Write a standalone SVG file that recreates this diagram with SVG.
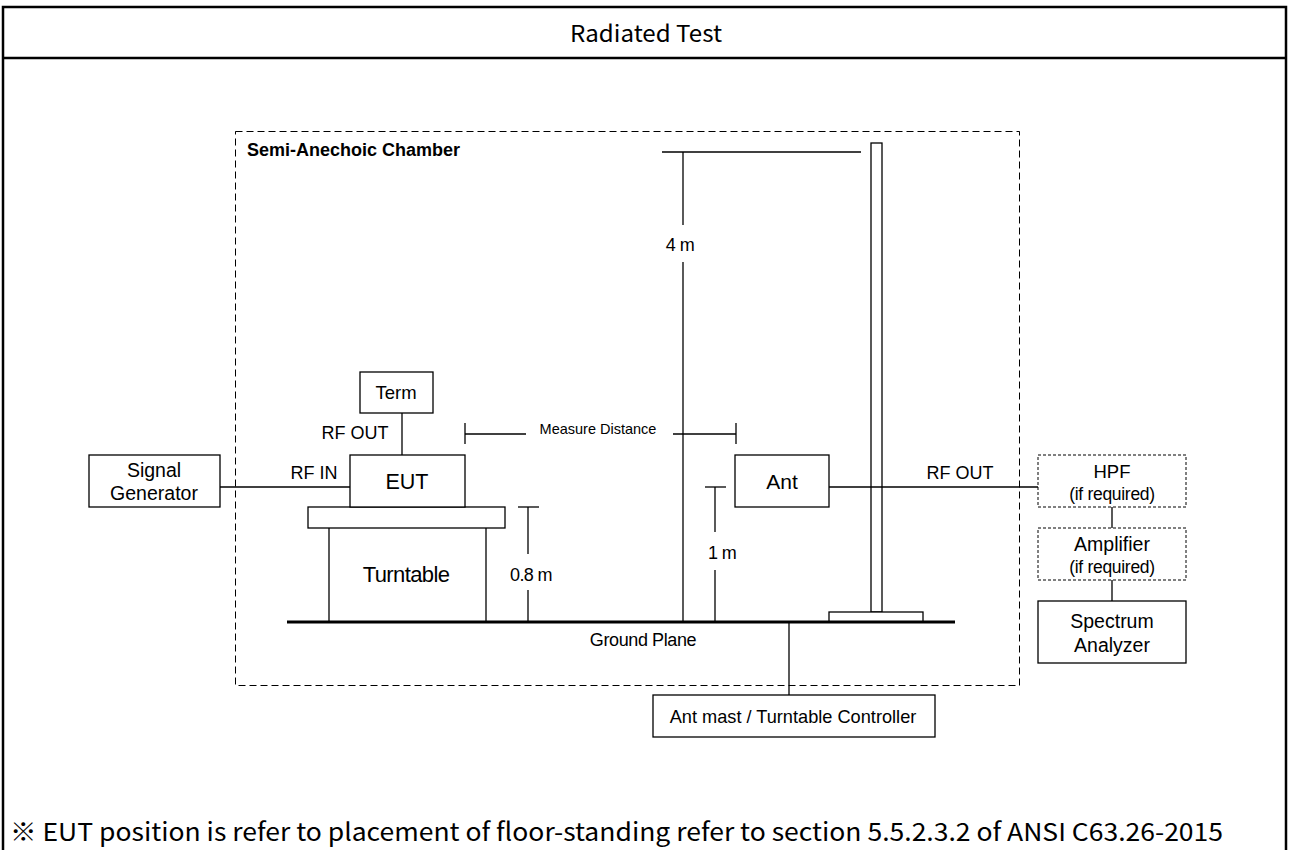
<svg xmlns="http://www.w3.org/2000/svg" width="1289" height="850" viewBox="0 0 1289 850">
<style>
.ln{stroke:#000;stroke-width:1.3;fill:none}
.bx{stroke:#000;stroke-width:1.3;fill:#fff}
.dbx{stroke:#000;stroke-width:1;stroke-dasharray:3,2;fill:#fff}
.t{font-family:"Liberation Sans",Arial,sans-serif;fill:#000;text-anchor:middle}
.cjk{font-family:"Noto Sans CJK KR","Noto Sans",sans-serif;fill:#000}
</style>
<rect x="0" y="0" width="1289" height="850" fill="#fff"/>
<g id="frame">
<path d="M3,852 V7 H1286 V852" stroke="#000" stroke-width="2.5" fill="none"/>
<line x1="3" y1="58" x2="1286" y2="58" stroke="#000" stroke-width="2.5"/>
<text class="cjk" x="570" y="42" font-size="23" textLength="152" lengthAdjust="spacingAndGlyphs">Radiated Test</text>
</g>
<g id="chamber">
<rect x="235.5" y="131.5" width="784" height="554" fill="none" stroke="#000" stroke-width="1" stroke-dasharray="7,4"/>
<text class="t" x="247" y="156" font-size="18" font-weight="bold" style="text-anchor:start">Semi-Anechoic Chamber</text>
</g>
<g id="mast">
<rect class="bx" x="871" y="143" width="11" height="469"/>
<rect class="bx" x="829" y="612" width="94" height="10"/>
</g>
<g id="connectors">
<line class="ln" x1="220" y1="487" x2="350" y2="487"/>
<line class="ln" x1="402" y1="413" x2="402" y2="455"/>
<line class="ln" x1="829" y1="487" x2="1038" y2="487"/>
<line class="ln" x1="1112" y1="507" x2="1112" y2="528"/>
<line class="ln" x1="1112" y1="580" x2="1112" y2="601"/>
<line class="ln" x1="789" y1="622" x2="789" y2="695"/>
<!-- 4m dimension -->
<line class="ln" x1="662" y1="152" x2="861" y2="152"/>
<line class="ln" x1="683" y1="152" x2="683" y2="225"/>
<line class="ln" x1="683" y1="262" x2="683" y2="622"/>
<!-- measure distance -->
<line class="ln" x1="465" y1="423" x2="465" y2="444"/>
<line class="ln" x1="465" y1="434" x2="526" y2="434"/>
<line class="ln" x1="673" y1="434" x2="736" y2="434"/>
<line class="ln" x1="736" y1="423" x2="736" y2="444"/>
<!-- 0.8 m -->
<line class="ln" x1="518" y1="507" x2="539" y2="507"/>
<line class="ln" x1="528" y1="507" x2="528" y2="554"/>
<line class="ln" x1="528" y1="590" x2="528" y2="622"/>
<!-- 1 m -->
<line class="ln" x1="705" y1="487" x2="726" y2="487"/>
<line class="ln" x1="715" y1="487" x2="715" y2="532"/>
<line class="ln" x1="715" y1="570" x2="715" y2="622"/>
</g>
<g id="labels">
<text class="t" x="355" y="439" font-size="18">RF OUT</text>
<text class="t" x="314" y="479" font-size="18">RF IN</text>
<text class="t" x="960" y="479" font-size="18">RF OUT</text>
<text class="t" x="598" y="434" font-size="14.5">Measure Distance</text>
<text class="t" x="680" y="251" font-size="18" letter-spacing="-0.5">4 m</text>
<text class="t" x="531" y="581" font-size="18" letter-spacing="-0.6">0.8 m</text>
<text class="t" x="722" y="559" font-size="18" letter-spacing="-0.6">1 m</text>
<text class="t" x="643" y="646" font-size="18" letter-spacing="-0.4">Ground Plane</text>
</g>
<g id="ground">
<line x1="287" y1="622" x2="955" y2="622" stroke="#000" stroke-width="3"/>
</g>
<g id="turntable">
<rect class="bx" x="308" y="507" width="197" height="21"/>
<line class="ln" x1="329" y1="528" x2="329" y2="622"/>
<line class="ln" x1="486" y1="528" x2="486" y2="622"/>
<text class="t" x="406" y="582" font-size="22" letter-spacing="-0.6">Turntable</text>
</g>
<g id="term">
<rect class="bx" x="360" y="372" width="73" height="41"/>
<text class="t" x="396" y="399" font-size="18.5">Term</text>
</g>
<g id="eut">
<rect class="bx" x="350" y="455" width="115" height="52"/>
<text class="t" x="407" y="489" font-size="21.5">EUT</text>
</g>
<g id="signal-generator">
<rect class="bx" x="89" y="455" width="131" height="52"/>
<text class="t" x="154" y="477" font-size="19.5">Signal</text>
<text class="t" x="154" y="500" font-size="19.5">Generator</text>
</g>
<g id="ant">
<rect class="bx" x="735" y="455" width="94" height="52"/>
<text class="t" x="782" y="489" font-size="21">Ant</text>
</g>
<g id="hpf">
<rect class="dbx" x="1038" y="455" width="148" height="52"/>
<text class="t" x="1112" y="478" font-size="18.5">HPF</text>
<text class="t" x="1112" y="500" font-size="17.5" letter-spacing="-0.3">(if required)</text>
</g>
<g id="amplifier">
<rect class="dbx" x="1038" y="528" width="148" height="52"/>
<text class="t" x="1112" y="551" font-size="19.5">Amplifier</text>
<text class="t" x="1112" y="573" font-size="17.5" letter-spacing="-0.3">(if required)</text>
</g>
<g id="spectrum-analyzer">
<rect class="bx" x="1038" y="601" width="148" height="62"/>
<text class="t" x="1112" y="628" font-size="19.5">Spectrum</text>
<text class="t" x="1112" y="652" font-size="19.5">Analyzer</text>
</g>
<g id="controller">
<rect class="bx" x="653" y="695" width="282" height="42"/>
<text class="t" x="793" y="723" font-size="18.2">Ant mast / Turntable Controller</text>
</g>
<g id="footnote">
<text class="cjk" x="10" y="841" font-size="24.5" textLength="1213" lengthAdjust="spacingAndGlyphs">※ EUT position is refer to placement of floor-standing refer to section 5.5.2.3.2 of ANSI C63.26-2015</text>
</g>
</svg>
